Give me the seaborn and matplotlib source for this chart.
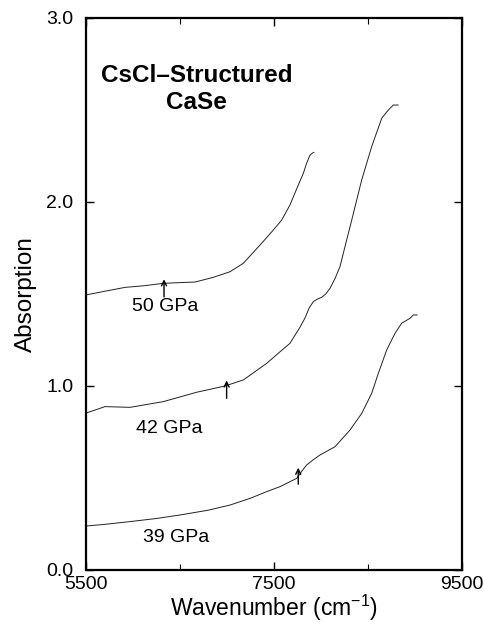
import numpy as np
import pandas as pd
import matplotlib
matplotlib.use("Agg")
import matplotlib.pyplot as plt
import seaborn as sns

# ---- data ----
x50 = [5500, 5700, 5915, 6120, 6323, 6500, 6660, 6850, 7032, 7174, 7351, 7480, 7582, 7670, 7740, 7812, 7850, 7883, 7910, 7926]
y50 = [1.495, 1.515, 1.536, 1.545, 1.558, 1.562, 1.565, 1.590, 1.621, 1.667, 1.766, 1.840, 1.902, 1.984, 2.070, 2.156, 2.215, 2.255, 2.266, 2.270]

x42 = [5500, 5600, 5702, 5968, 6322, 6677, 6979, 7174, 7422, 7564, 7670, 7777, 7830, 7875, 7918, 7960, 8007, 8050, 8096, 8150, 8202, 8255, 8327, 8433, 8539, 8646, 8700, 8734, 8769, 8822]
y42 = [0.853, 0.870, 0.888, 0.884, 0.915, 0.966, 1.000, 1.033, 1.123, 1.186, 1.232, 1.320, 1.370, 1.425, 1.458, 1.472, 1.482, 1.500, 1.531, 1.585, 1.649, 1.757, 1.902, 2.120, 2.301, 2.455, 2.490, 2.509, 2.527, 2.527]

x39 = [5500, 5700, 5968, 6250, 6500, 6800, 7032, 7250, 7422, 7564, 7670, 7741, 7800, 7848, 7920, 7989, 8149, 8309, 8433, 8539, 8610, 8699, 8787, 8858, 8947, 8982, 9024]
y39 = [0.239, 0.248, 0.263, 0.280, 0.299, 0.325, 0.353, 0.390, 0.426, 0.453, 0.480, 0.498, 0.540, 0.571, 0.600, 0.625, 0.670, 0.761, 0.851, 0.960, 1.069, 1.196, 1.286, 1.341, 1.368, 1.386, 1.386]

pressures = ["50 GPa", "42 GPa", "39 GPa"]
label_x = [6340, 6383, 6457]
label_y = [1.43, 0.77, 0.174]

arrow_x = [6330, 6996, 7758]
arrow_tail = [1.484, 0.933, 0.466]
arrow_head = [1.580, 1.030, 0.556]

x_ticks = [5500, 7500, 9500]
x_minor = [6500, 8500]
y_ticks = [0.0, 1.0, 2.0, 3.0]
y_ticklabels = ["0.0", "1.0", "2.0", "3.0"]

title_text = "CsCl\u2013Structured\nCaSe"

df = pd.concat([
    pd.DataFrame({"x": x50, "y": y50, "p": "50 GPa"}),
    pd.DataFrame({"x": x42, "y": y42, "p": "42 GPa"}),
    pd.DataFrame({"x": x39, "y": y39, "p": "39 GPa"}),
])

sns.set_theme(style="ticks")
plt.rcParams["font.family"] = ["Liberation Sans", "DejaVu Sans"]
plt.rcParams["mathtext.fontset"] = "custom"
plt.rcParams["mathtext.rm"] = "Liberation Sans"
plt.rcParams["mathtext.it"] = "Liberation Sans:italic"
plt.rcParams["text.color"] = "black"
plt.rcParams["axes.labelcolor"] = "black"

fig = plt.figure(figsize=(4.84, 6.24), dpi=100)
ax = fig.add_axes([86 / 484, 1 - 570 / 624, 376 / 484, 552 / 624])

for p in pressures:
    sub = df[df["p"] == p]
    sns.lineplot(data=sub, x="x", y="y", ax=ax, sort=False, color="#222222",
                 linewidth=0.7, estimator=None)

for t, lx, ly in zip(pressures, label_x, label_y):
    ax.text(lx, ly, t, ha="center", va="center", fontsize=14, color="black")

for ax_, t0, t1 in zip(arrow_x, arrow_tail, arrow_head):
    ax.annotate("", xy=(ax_, t1), xytext=(ax_, t0),
                arrowprops=dict(arrowstyle="->", color="black", lw=1.0,
                                shrinkA=0, shrinkB=0, mutation_scale=9))

ax.text(6675, 2.614, title_text, ha="center", va="center", fontsize=17.5,
        fontweight="bold", linespacing=1.25, color="black")

ax.set_xlim(5500, 9500)
ax.set_ylim(0, 3.0)
ax.set_xticks(x_ticks)
ax.set_xticks(x_minor, minor=True)
ax.set_yticks(y_ticks)
ax.set_yticklabels(y_ticklabels)
ax.tick_params(axis="both", which="both", direction="in", top=True, right=True,
               labelsize=14, colors="black")
ax.tick_params(which="major", length=6, width=1.0)
ax.tick_params(which="minor", length=4, width=0.8)
ax.tick_params(axis="x", pad=4)
ax.tick_params(axis="y", pad=9)
for s in ax.spines.values():
    s.set_linewidth(1.6)
    s.set_color("black")

ax.set_xlabel("Wavenumber (cm$^{\\mathrm{-1}}$)", fontsize=16.5, labelpad=0, color="black")
ax.set_ylabel("Absorption", fontsize=17.5, labelpad=7, color="black")

fig.savefig("out.png", dpi=100)
